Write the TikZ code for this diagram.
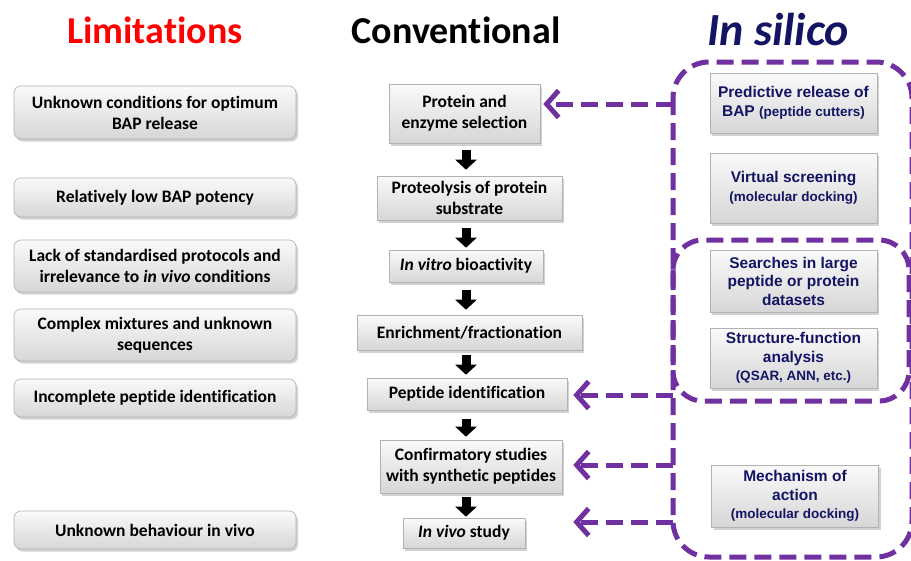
\documentclass[tikz,border=0pt]{standalone}
\usepackage{fontspec}
\setmainfont{Carlito}[Ligatures=NoCommon]
\newfontfamily\arialf{Liberation Sans}
\usetikzlibrary{arrows.meta,shadows}
\definecolor{pp}{HTML}{7030A0}
\definecolor{navy}{RGB}{20,20,100}
\definecolor{titred}{HTML}{FF0000}
\begin{document}
\begin{tikzpicture}[x=1pt,y=-1pt,
  box/.style={draw=black!30, line width=0.6pt, top color=black!2, bottom color=black!16,
    drop shadow={shadow xshift=2pt,shadow yshift=-2.5pt,opacity=0.35},
    align=center, inner sep=0pt, font=\fontsize{17.5}{21}\selectfont\bfseries},
  lbox/.style={box, rounded corners=7pt, minimum width=282pt},
  rbox/.style={box, minimum width=167pt, font=\arialf\fontsize{15.5}{18.5}\selectfont\bfseries, text=navy},
  ttl/.style={anchor=base, font=\fontsize{38}{40}\selectfont\bfseries},
  pdash/.style={draw=pp, line width=5pt, dash pattern=on 17pt off 8pt},
  parrow/.style={pdash, -{Straight Barb[length=12pt,width=27pt]}},
  blk/.style={line width=9pt, -{Triangle[width=21pt,length=10pt]}}
]
\useasboundingbox (0,0) rectangle (911,560);
\fill[white] (0,0) rectangle (911,560);

% titles
\node[ttl, text=titred] (tl) at (155,43) {Limitations};
\node[ttl] (tc) at (456,43) {Conventional};
\node[ttl, text=navy, font=\fontsize{46}{48}\selectfont\bfseries\itshape] (tr) at (778,45) {In silico};

% dashed groups
\draw[pdash, rounded corners=36pt] (673,62) rectangle (912,557);
\draw[pdash, rounded corners=30pt] (673,240) rectangle (909,401);

% left column
\node[lbox, minimum height=53pt] (L1) at (155,112.5) {Unknown conditions for optimum\\BAP release};
\node[lbox, minimum height=39pt] (L2) at (155,197.5) {Relatively low BAP potency};
\node[lbox, minimum height=52pt] (L3) at (155,266) {Lack of standardised protocols and\\irrelevance to \textit{in vivo} conditions};
\node[lbox, minimum height=52pt] (L4) at (155,335) {Complex mixtures and unknown\\sequences};
\node[lbox, minimum height=38pt] (L5) at (155,398) {Incomplete peptide identification};
\node[lbox, minimum height=38pt] (L6) at (155,530) {Unknown behaviour in vivo};

% centre column
\node[box, minimum width=151pt, minimum height=59pt] (C1) at (464.5,113.5) {Protein and\\enzyme selection};
\node[box, minimum width=185pt, minimum height=44pt] (C2) at (469.5,198) {Proteolysis of protein\\substrate};
\node[box, minimum width=154pt, minimum height=32pt] (C3) at (466,266) {\textit{In vitro} bioactivity};
\node[box, minimum width=225pt, minimum height=35pt] (C4) at (469.5,332.5) {Enrichment/fractionation};
\node[box, minimum width=200pt, minimum height=32pt] (C5) at (467,394) {Peptide identification};
\node[box, minimum width=182pt, minimum height=53pt] (C6) at (471,466.5) {Confirmatory studies\\with synthetic peptides};
\node[box, minimum width=122pt, minimum height=30pt] (C7) at (464,533) {\textit{In vivo} study};

\coordinate (ax) at (466,0);
\foreach \a/\b/\s/\t in {C1/C2/7/6, C2/C3/8/2, C3/C4/8/5, C4/C5/5/3, C5/C6/9/3, C6/C7/4/1}
  \draw[blk, shorten <=\s pt, shorten >=\t pt] (\a.south -| ax) -- (\b.north -| ax);

% right column
\node[rbox, minimum height=60pt] (R1) at (793.5,103) {Predictive release of\\BAP {\fontsize{13.5}{16}\selectfont (peptide cutters)}};
\node[rbox, minimum height=70pt] (R2) at (793.5,188) {Virtual screening\\{\fontsize{13.5}{16}\selectfont (molecular docking)}};
\node[rbox, minimum height=62pt] (R3) at (793.5,281) {Searches in large\\peptide or protein\\datasets};
\node[rbox, minimum height=60pt] (R4) at (793.5,358) {Structure-function\\analysis\\{\fontsize{13.5}{16}\selectfont (QSAR, ANN, etc.)}};
\node[rbox, minimum height=62pt] (R5) at (795,496) {Mechanism of\\action\\{\fontsize{13.5}{16}\selectfont (molecular docking)}};

% purple connectors
\coordinate (j1) at (673,104);
\coordinate (j2) at (673,395);
\coordinate (j3) at (673,465);
\coordinate (j4) at (673,522);
\draw[parrow, shorten >=3pt] (j1) -- (j1 -| C1.east);
\draw[parrow, shorten >=6pt] (j2) -- (j2 -| C5.east);
\draw[parrow, shorten >=11pt] (j3) -- (j3 -| C6.east);
\draw[parrow, shorten >=48pt] (j4) -- (j4 -| C7.east);
\end{tikzpicture}
\end{document}
